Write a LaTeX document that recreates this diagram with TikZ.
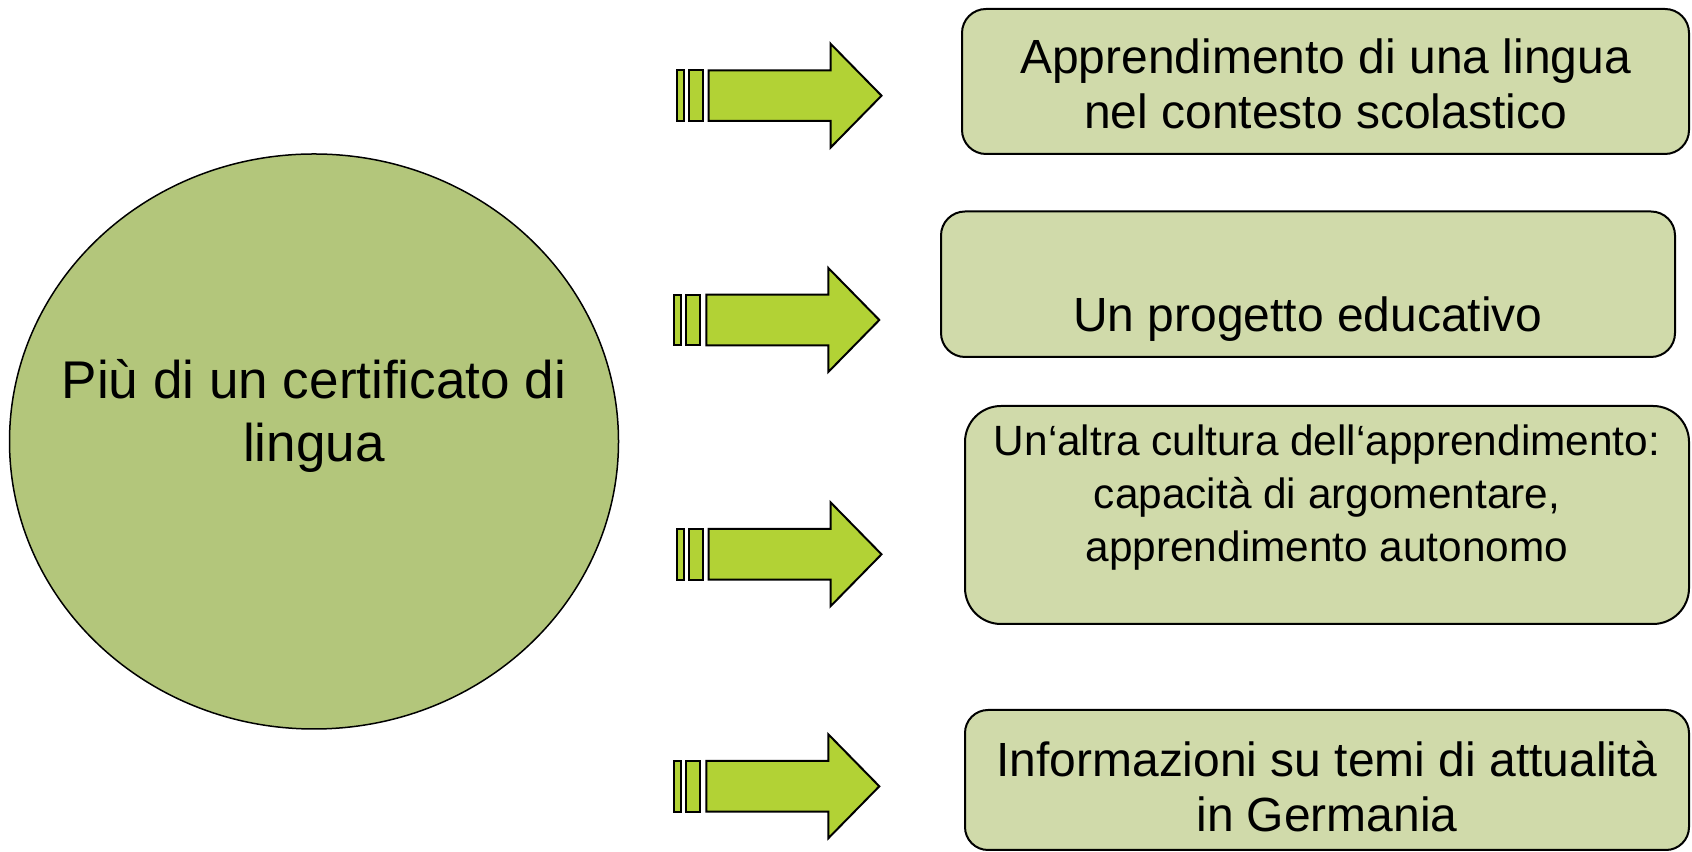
\documentclass[tikz,border=0pt]{standalone}
\usepackage{fontspec}
\setmainfont{Liberation Sans}
\usepackage{xcolor}
\usetikzlibrary{shapes.geometric}

\definecolor{circlegreen}{HTML}{B3C67B}
\definecolor{boxgreen}{HTML}{D0DAAA}
\definecolor{arrowgreen}{HTML}{B2D235}

\begin{document}
\begin{tikzpicture}[
	textbox/.style={rectangle, draw, fill=boxgreen, line width=0.4mm, align=center, inner sep=0pt},
	bigfont/.style={font=\fontsize{27.3}{31.3}\selectfont},
	arrowpart/.style={draw, fill=arrowgreen, line width=0.4mm, line join=miter}
]
	\useasboundingbox (0, 0) rectangle (33.84, 17.04);

	\node[ellipse, draw, fill=circlegreen, line width=0.3mm, inner sep=0pt, minimum width=12.18cm, minimum height=11.5cm] (cert) at (6.28, 8.21) {};
	\node[align=center, font=\fontsize{30.2}{35.3}\selectfont] (certtext) at (cert.center) {Più di un certificato di\\lingua\\\mbox{}};

	% the four boxes on the right
	\node[textbox, bigfont, rounded corners=0.48cm, minimum width=14.54cm, minimum height=2.9cm] (b1) at (26.51, 15.41) {\rule{0pt}{22pt}Apprendimento di una lingua\\nel contesto scolastico};
	\node[textbox, bigfont, rounded corners=0.48cm, minimum width=14.68cm, minimum height=2.91cm] (b2) at (26.16, 11.355) {\rule{0pt}{28pt}\\Un progetto educativo};
	\node[textbox, rounded corners=0.72cm, minimum width=14.48cm, minimum height=4.36cm, font=\fontsize{24.1}{30.2}\selectfont] (b3) at (26.54, 6.74) {\rule{0pt}{22.5pt}Un‘altra cultura dell‘apprendimento:\\capacità di argomentare,\\apprendimento autonomo\\\mbox{}};
	\node[textbox, bigfont, rounded corners=0.46cm, minimum width=14.48cm, minimum height=2.8cm] (b4) at (26.54, 1.44) {\rule{0pt}{27.5pt}Informazioni su temi di attualità\\in Germania};

	% the arrows, drawn from their tips
	\begin{scope}[xshift=17.63cm, yshift=15.126cm]
		\draw[arrowpart] (-4.10, -0.506) rectangle (-3.96, 0.506);
		\draw[arrowpart] (-3.86, -0.506) rectangle (-3.58, 0.506);
		\draw[arrowpart] (-3.46, -0.506) -- (-1.02, -0.506) -- (-1.02, -1.04) -- (0, 0) -- (-1.02, 1.04) -- (-1.02, 0.506) -- (-3.46, 0.506) -- cycle;
	\end{scope}

	\begin{scope}[xshift=17.586cm, yshift=10.64cm]
		\draw[arrowpart] (-4.10, -0.506) rectangle (-3.96, 0.506);
		\draw[arrowpart] (-3.86, -0.506) rectangle (-3.58, 0.506);
		\draw[arrowpart] (-3.46, -0.506) -- (-1.02, -0.506) -- (-1.02, -1.04) -- (0, 0) -- (-1.02, 1.04) -- (-1.02, 0.506) -- (-3.46, 0.506) -- cycle;
	\end{scope}

	\begin{scope}[xshift=17.63cm, yshift=5.954cm]
		\draw[arrowpart] (-4.10, -0.506) rectangle (-3.96, 0.506);
		\draw[arrowpart] (-3.86, -0.506) rectangle (-3.58, 0.506);
		\draw[arrowpart] (-3.46, -0.506) -- (-1.02, -0.506) -- (-1.02, -1.04) -- (0, 0) -- (-1.02, 1.04) -- (-1.02, 0.506) -- (-3.46, 0.506) -- cycle;
	\end{scope}

	\begin{scope}[xshift=17.586cm, yshift=1.314cm]
		\draw[arrowpart] (-4.10, -0.506) rectangle (-3.96, 0.506);
		\draw[arrowpart] (-3.86, -0.506) rectangle (-3.58, 0.506);
		\draw[arrowpart] (-3.46, -0.506) -- (-1.02, -0.506) -- (-1.02, -1.04) -- (0, 0) -- (-1.02, 1.04) -- (-1.02, 0.506) -- (-3.46, 0.506) -- cycle;
	\end{scope}
\end{tikzpicture}
\end{document}
